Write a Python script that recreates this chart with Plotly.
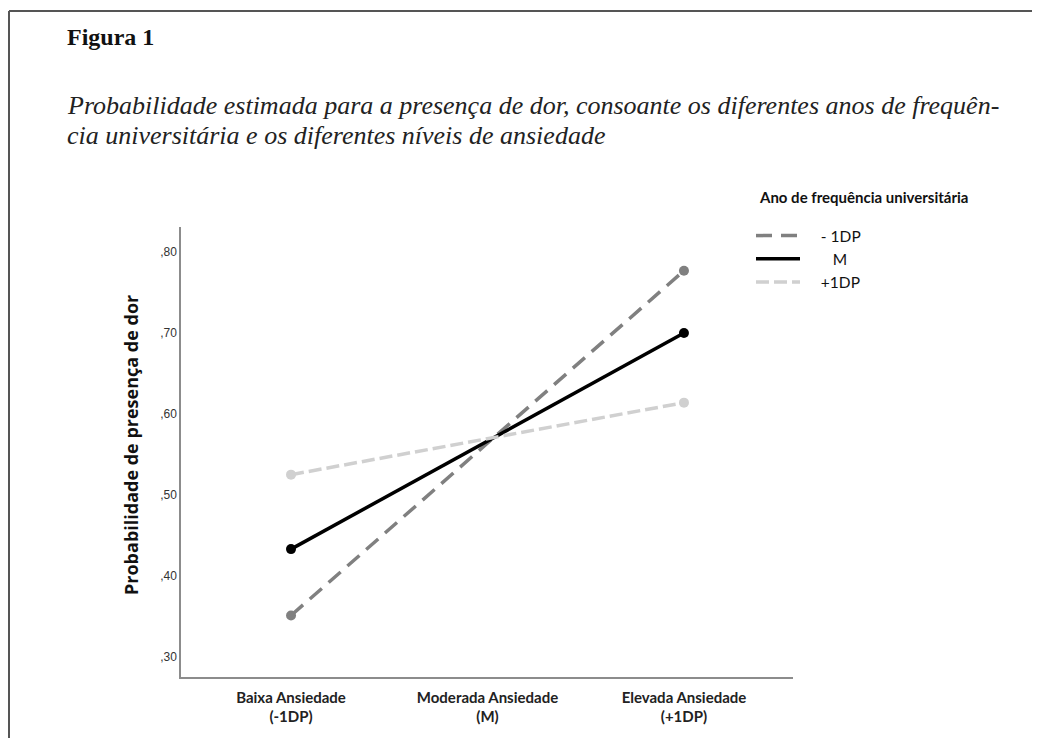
import plotly.graph_objects as go

# ---- data ----
categorias = ["Baixa Ansiedade<br>(-1DP)", "Moderada Ansiedade<br>(M)", "Elevada Ansiedade<br>(+1DP)"]
NB = "\u00a0"
serie_nomes = [NB * 4 + "- 1DP", NB * 7 + "M", NB * 4 + "+1DP"]
menos_1dp = [0.351, None, 0.777]
media_m = [0.433, None, 0.700]
mais_1dp = [0.525, None, 0.614]
tick_vals = [0.30, 0.40, 0.50, 0.60, 0.70, 0.80]
tick_text = [",30", ",40", ",50", ",60", ",70", ",80"]

titulo = "Figura 1"
subtitulo_1 = "Probabilidade estimada para a presença de dor, consoante os diferentes anos de frequên-"
subtitulo_2 = "cia universitária e os diferentes níveis de ansiedade"
legenda_titulo = "Ano de frequência universitária"
eixo_y_titulo = "Probabilidade de presença de dor"

# ---- layout geometry (page pixels; page body has an 8px margin) ----
OFF = 8
PAGE_W, PAGE_H = 1040, 746
W, H = PAGE_W - 2 * OFF, PAGE_H - 2 * OFF
AX_L, AX_R, AX_T, AX_B = 181, 793, 227, 677  # plot area in page pixels
L, R, T, B = AX_L - OFF, W - (AX_R - OFF), AX_T - OFF, H - (AX_B - OFF)
PW, PH = W - L - R, H - T - B


def px(x):
    return (x - OFF - L) / PW


def py(y):
    return (H - B - (y - OFF)) / PH


estilos = [
    dict(color="#808080", dash="16px,9px"),
    dict(color="#000000", dash="solid"),
    dict(color="#d0d0d0", dash="13px,5px"),
]
series = [menos_1dp, media_m, mais_1dp]

fig = go.Figure()
for nome, vals, est in zip(serie_nomes, series, estilos):
    fig.add_trace(go.Scatter(
        x=categorias, y=vals, mode="lines", name=nome, connectgaps=True,
        line=dict(color=est["color"], width=3.5, dash=est["dash"]),
        showlegend=True, hoverinfo="skip",
    ))
for nome, vals, est in zip(serie_nomes, series, estilos):
    fig.add_trace(go.Scatter(
        x=categorias, y=vals, mode="markers", name=nome,
        marker=dict(color=est["color"], size=10),
        showlegend=False,
    ))

fig.update_layout(
    width=W, height=H,
    margin=dict(l=L, r=R, t=T, b=B),
    paper_bgcolor="white", plot_bgcolor="white",
    showlegend=True,
    legend=dict(
        x=px(751), y=py(219), xanchor="left", yanchor="top",
        font=dict(family="Lato", size=15.5, color="#111"),
        bgcolor="rgba(0,0,0,0)", tracegroupgap=0, itemwidth=44,
    ),
    xaxis=dict(
        type="category", range=[-0.56, 2.555],
        showline=True, linecolor="#8c8c8c", linewidth=1.5,
        showgrid=False, zeroline=False, ticks="",
        tickfont=dict(family="Lato", size=15, color="#222", weight="bold"),
        ticklabelstandoff=6,
        fixedrange=True,
    ),
    yaxis=dict(
        range=[0.275, 0.831],
        tickvals=tick_vals, ticktext=tick_text,
        showline=True, linecolor="#8c8c8c", linewidth=1.5,
        showgrid=False, zeroline=False, ticks="",
        tickfont=dict(family="Liberation Sans", size=12, color="#333"),
        fixedrange=True,
    ),
)

ann = [
    dict(text="<b>" + titulo + "</b>", x=px(65), y=py(37), xanchor="left", yanchor="middle",
         font=dict(family="Liberation Serif", size=24, color="#111")),
    dict(text="<i>" + subtitulo_1 + "</i>", x=px(65), y=py(105), xanchor="left", yanchor="middle",
         font=dict(family="Liberation Serif", size=26, color="#222")),
    dict(text="<i>" + subtitulo_2 + "</i>", x=px(65), y=py(136), xanchor="left", yanchor="middle",
         font=dict(family="Liberation Serif", size=26, color="#222")),
    dict(text="<b>" + legenda_titulo + "</b>", x=px(757), y=py(197), xanchor="left", yanchor="middle",
         font=dict(family="Lato", size=15, color="#111")),
    dict(text="<b>" + eixo_y_titulo + "</b>", x=px(131), y=py(445), xanchor="center", yanchor="middle",
         textangle=-90, font=dict(family="Open Sans", size=18, color="#111")),
]
for a in ann:
    a.update(xref="paper", yref="paper", showarrow=False)
fig.update_layout(annotations=ann)

# outer frame (left and top edges)
fig.add_shape(type="line", xref="paper", yref="paper", x0=px(9), y0=py(PAGE_H), x1=px(9), y1=py(11),
              line=dict(color="#555", width=2))
fig.add_shape(type="line", xref="paper", yref="paper", x0=px(9), y0=py(11), x1=px(PAGE_W), y1=py(11),
              line=dict(color="#555", width=2))

fig.write_html("out.html")
